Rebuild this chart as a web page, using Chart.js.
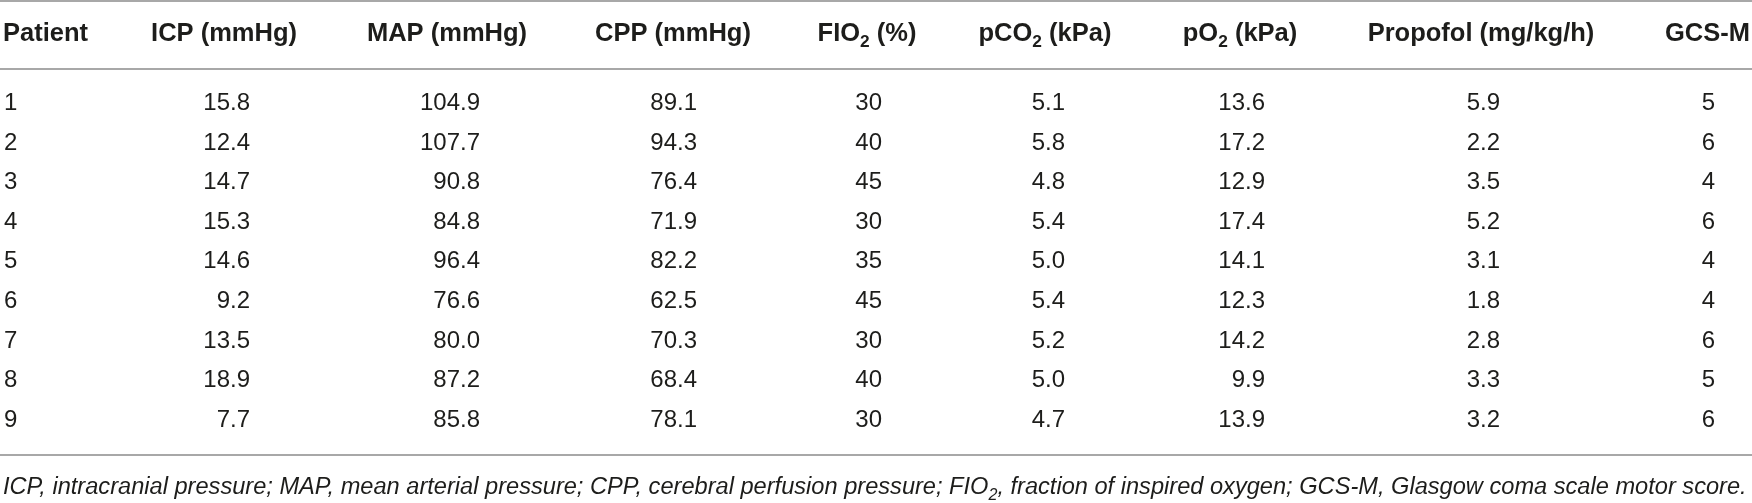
<!DOCTYPE html>
<html>
<head>
<meta charset="utf-8">
<script src="https://cdn.jsdelivr.net/npm/chart.js@4.4.1/dist/chart.umd.min.js"></script>
<style>
  html, body { margin: 0; padding: 0; background: #fff; }
  #wrap { width: 1752px; height: 503px; position: relative; }
</style>
</head>
<body>
<div id="wrap"><canvas id="tbl"></canvas></div>
<script>
// ── table data ───────────────────────────────────────────
const patients = ['1', '2', '3', '4', '5', '6', '7', '8', '9'];
const icp      = [15.8, 12.4, 14.7, 15.3, 14.6, 9.2, 13.5, 18.9, 7.7];
const mapP     = [104.9, 107.7, 90.8, 84.8, 96.4, 76.6, 80.0, 87.2, 85.8];
const cpp      = [89.1, 94.3, 76.4, 71.9, 82.2, 62.5, 70.3, 68.4, 78.1];
const fio2     = [30, 40, 45, 30, 35, 45, 30, 40, 30];
const pco2     = [5.1, 5.8, 4.8, 5.4, 5.0, 5.4, 5.2, 5.0, 4.7];
const po2      = [13.6, 17.2, 12.9, 17.4, 14.1, 12.3, 14.2, 9.9, 13.9];
const propofol = [5.9, 2.2, 3.5, 5.2, 3.1, 1.8, 2.8, 3.3, 3.2];
const gcsM     = [5, 6, 4, 6, 4, 4, 6, 5, 6];

// header labels, [text, isSubscript]
const headers = [
    [['Patient']],
    [['ICP (mmHg)']],
    [['MAP (mmHg)']],
    [['CPP (mmHg)']],
    [['FIO'], ['2', true], [' (%)']],
    [['pCO'], ['2', true], [' (kPa)']],
    [['pO'], ['2', true], [' (kPa)']],
    [['Propofol (mg/kg/h)']],
    [['GCS-M']]
];
const decimals = [0, 1, 1, 1, 0, 1, 1, 1, 0];

const footnote = [
    ['ICP, intracranial pressure; MAP, mean arterial pressure; CPP, cerebral perfusion pressure; FIO'],
    ['2', true],
    [', fraction of inspired oxygen; GCS-M, Glasgow coma scale motor score.']
];

// ── layout (x in px units of the x scale, y in row units) ──
const W = 1752, H = 503;
const cellX     = [4, 250, 480, 697, 882, 1065, 1265, 1500, 1715];
const cellAlign = ['left', 'right', 'right', 'right', 'right', 'right', 'right', 'right', 'right'];
const headX     = [3, 224, 447, 673, 867, 1045, 1240, 1481, 1665];
const headAlign = ['left', 'center', 'center', 'center', 'center', 'center', 'center', 'center', 'left'];
const ROW0 = 110, PITCH = 39.6;                 // baseline of row 1, row pitch
const yOf  = px => 1 + (px - ROW0) / PITCH;     // px -> row units
const Y_TOP_RULE = yOf(1), Y_HEAD = yOf(41), Y_HEAD_RULE = yOf(69),
      Y_BOT_RULE = yOf(455), Y_NOTE = yOf(494);

const TEXT = '#1d1d1b';
const RULE = '#a8a8a8';
const FONT = '"Liberation Sans", Arial, Helvetica, sans-serif';

const columns = [patients, icp, mapP, cpp, fio2, pco2, po2, propofol, gcsM];

function fmt(v, d) { return typeof v === 'number' ? v.toFixed(d) : String(v); }

// text with optional subscript parts
function richWidth(ctx, parts, style, size) {
    let w = 0;
    parts.forEach(([t, sub]) => {
        ctx.font = `${style} ${sub ? size * 0.68 : size}px ${FONT}`;
        w += ctx.measureText(t).width;
    });
    return w;
}
function drawRich(ctx, parts, x, y, align, style, size) {
    const w = richWidth(ctx, parts, style, size);
    let cx = align === 'center' ? x - w / 2 : align === 'right' ? x - w : x;
    ctx.textAlign = 'left';
    parts.forEach(([t, sub]) => {
        ctx.font = `${style} ${sub ? size * 0.68 : size}px ${FONT}`;
        ctx.fillText(t, cx, sub ? y + size * 0.24 : y);
        cx += ctx.measureText(t).width;
    });
}

const tablePlugin = {
    id: 'tableText',
    afterDatasetsDraw(chart) {
        const { ctx, scales: { x, y }, chartArea } = chart;
        ctx.save();
        ctx.fillStyle = TEXT;
        ctx.textBaseline = 'alphabetic';

        // rules
        ctx.strokeStyle = RULE;
        ctx.lineWidth = 2;
        [Y_TOP_RULE, Y_HEAD_RULE, Y_BOT_RULE].forEach(r => {
            const py = Math.round(y.getPixelForValue(r));
            ctx.beginPath();
            ctx.moveTo(chartArea.left, py);
            ctx.lineTo(chartArea.right, py);
            ctx.stroke();
        });

        // header
        headers.forEach((parts, i) => {
            drawRich(ctx, parts, x.getPixelForValue(headX[i]), y.getPixelForValue(Y_HEAD),
                     headAlign[i], 'bold', 25.5);
        });

        // cells, positioned by the point elements
        ctx.font = `24px ${FONT}`;
        chart.data.datasets.forEach((ds, c) => {
            const meta = chart.getDatasetMeta(c);
            ctx.textAlign = cellAlign[c];
            meta.data.forEach((pt, r) => {
                ctx.fillText(fmt(ds.data[r].v, decimals[c]), pt.x, pt.y);
            });
        });

        // footnote, fitted to table width
        const base = 22;
        const fw = richWidth(ctx, footnote, 'italic', base);
        const size = base * (chartArea.right - chartArea.left - 7) / fw;
        drawRich(ctx, footnote, x.getPixelForValue(3), y.getPixelForValue(Y_NOTE), 'left', 'italic', size);
        ctx.restore();
    }
};

new Chart(document.getElementById('tbl'), {
    type: 'scatter',
    data: {
        datasets: columns.map((vals, c) => ({
            label: headers[c].map(p => p[0]).join(''),
            data : vals.map((v, r) => ({ x: cellX[c], y: r + 1, v })),
            pointRadius: 0,
            pointHoverRadius: 0
        }))
    },
    options: {
        responsive: true,
        maintainAspectRatio: false,
        animation: false,
        events: [],
        layout: { padding: 0 },
        plugins: { legend: { display: false }, tooltip: { enabled: false } },
        scales: {
            x: { type: 'linear', display: false, min: 0, max: W },
            y: { type: 'linear', display: false, reverse: true, min: yOf(0), max: yOf(H) }
        }
    },
    plugins: [tablePlugin]
});
</script>
</body>
</html>
